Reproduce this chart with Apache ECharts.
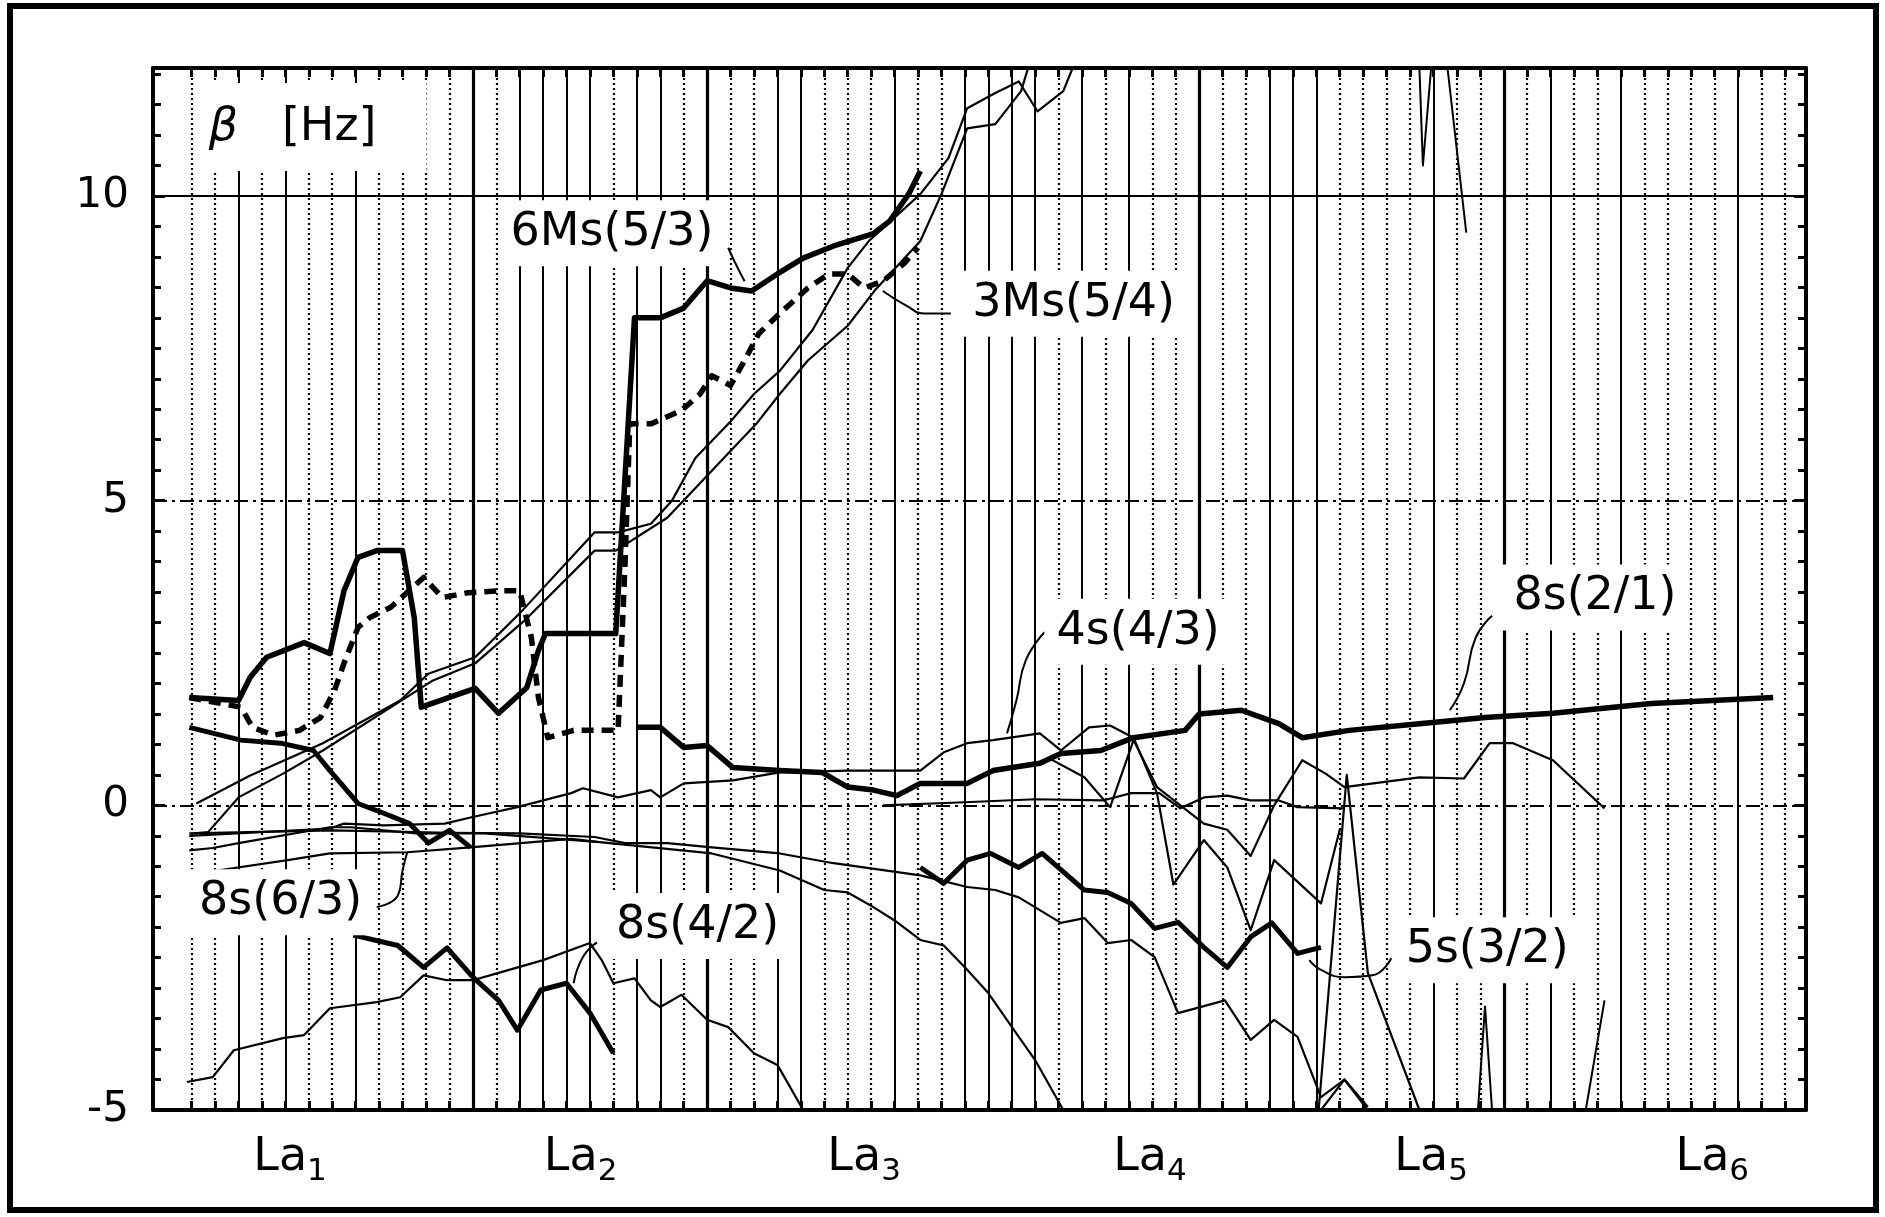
<!DOCTYPE html>
<html><head><meta charset="utf-8">
<script src="https://cdn.jsdelivr.net/npm/echarts@6/dist/echarts.min.js"></script>
<style>html,body{margin:0;padding:0;background:#fff}#c{width:1885px;height:1217px}</style>
</head><body><div id="c"></div>
<script>
// x unit = index of the vertical grid line (0 = first line after the left axis)
const laLabels = ['1','2','3','4','5','6'];
const laPositions = [4.2, 16.6, 28.7, 40.9, 52.9, 64.9];
const yTickLabels = [-5, 0, 5, 10];

// thick solid  6Ms(5/3)
const s6Ms = [[-0.1,1.77],[2.0,1.72],[2.5,2.1],[3.2,2.43],[4.8,2.67],[5.9,2.49],[6.5,3.52],[7.1,4.07],[7.9,4.18],[9.0,4.18],[9.5,3.08],[9.8,1.61],[12.1,1.92],[13.1,1.51],[14.3,1.93],[14.8,2.54],[15.1,2.82],[18.1,2.82],[18.9,8.0],[20.0,8.0],[21.0,8.16],[22.0,8.61],[23.0,8.49],[23.9,8.44],[25.0,8.72],[26.1,8.98],[27.4,9.18],[29.1,9.38],[29.8,9.59],[30.6,10.03],[31.1,10.41]];
// thick dashed 3Ms(5/4)
const s3Ms = [[-0.1,1.77],[2.1,1.61],[2.6,1.28],[3.5,1.15],[4.6,1.23],[5.5,1.44],[6.1,1.89],[6.5,2.33],[7.1,2.92],[7.6,3.08],[8.5,3.25],[9.9,3.74],[10.7,3.41],[11.8,3.49],[13.1,3.52],[14.0,3.52],[14.5,2.75],[14.8,1.77],[15.2,1.11],[16.3,1.23],[18.2,1.23],[18.5,4.0],[18.7,6.26],[19.6,6.26],[20.9,6.48],[21.7,6.75],[22.2,7.05],[23.0,6.89],[23.6,7.3],[24.2,7.74],[25.1,8.07],[26.3,8.49],[27.2,8.72],[28.0,8.72],[28.7,8.49],[29.5,8.6],[30.4,8.89],[31.0,9.15]];
// thin rising pair
const sThinU = [[0.2,0.03],[2.5,0.49],[5.6,1.02],[8.9,1.72],[10.1,2.16],[12.1,2.43],[14.0,3.15],[17.2,4.48],[18.2,4.48],[19.6,4.62],[20.5,5.0],[21.5,5.7],[23.0,6.3],[24.0,6.75],[25.1,7.13],[26.5,7.8],[28.0,8.82],[28.9,9.26],[31.1,10.03],[32.3,10.62],[33.1,11.44],[34.3,11.69],[35.3,11.88],[36.1,11.39],[37.2,11.72],[37.6,12.1]];
const sThinL = [[0.1,-0.46],[0.7,-0.44],[2.0,0.13],[3.9,0.52],[5.6,0.9],[10.3,2.05],[12.1,2.33],[14.2,3.03],[17.2,4.18],[18.1,4.18],[20.3,4.72],[22.2,5.49],[24.1,6.26],[25.1,6.75],[26.3,7.3],[28.0,7.87],[29.2,8.47],[31.1,9.26],[32.0,10.03],[33.1,11.11],[34.3,11.18],[35.4,11.72],[35.7,12.1]];
// thick descending (left)
const sThickD = [[-0.1,1.28],[2.1,1.07],[3.8,1.02],[5.2,0.9],[5.9,0.57],[7.1,0.03],[8.2,-0.13],[9.3,-0.3],[10.1,-0.62],[11.0,-0.41],[11.9,-0.69]];
// thick line ending as 8s(2/1)
const s8s21 = [[19.0,1.28],[20.0,1.28],[21.0,0.95],[22.0,0.98],[23.1,0.62],[25.1,0.57],[26.9,0.54],[28.0,0.3],[29.1,0.25],[30.1,0.16],[31.1,0.36],[33.1,0.36],[34.2,0.57],[36.2,0.69],[37.1,0.85],[38.8,0.9],[40.2,1.11],[42.4,1.23],[43.0,1.5],[44.8,1.56],[46.4,1.34],[47.4,1.11],[49.4,1.23],[52.4,1.34],[55.2,1.44],[58.1,1.51],[62.3,1.67],[67.5,1.77]];
// thick 5s(3/2)
const s5s32 = [[31.1,-1.02],[32.1,-1.28],[33.1,-0.9],[34.1,-0.79],[35.3,-1.02],[36.3,-0.79],[38.1,-1.39],[39.1,-1.43],[40.1,-1.61],[41.1,-2.02],[42.1,-1.92],[43.2,-2.33],[44.2,-2.66],[45.2,-2.16],[46.1,-1.93],[47.2,-2.43],[48.2,-2.33]];
// thick 8s(4/2)
const s8s42 = [[6.9,-2.13],[8.8,-2.3],[9.9,-2.66],[10.9,-2.34],[12.0,-2.82],[13.1,-3.2],[13.9,-3.69],[14.9,-3.03],[16.0,-2.92],[17.0,-3.41],[18.0,-4.07]];
// thin lines
const sThinLow = [[-0.2,-4.54],[0.9,-4.46],[1.8,-4.02],[3.9,-3.82],[4.8,-3.77],[5.9,-3.33],[7.9,-3.23],[8.9,-3.15],[9.9,-2.79],[10.9,-2.87],[12.0,-2.87],[13.1,-2.75],[15.0,-2.54],[17.0,-2.26],[17.5,-2.54],[18.0,-2.92],[18.9,-2.84],[19.6,-3.2],[20.0,-3.31],[20.9,-3.11],[22.0,-3.52],[22.9,-3.64],[24.0,-4.07],[25.0,-4.26],[26.1,-5.0]];
const sThinM1 = [[-0.1,-0.46],[6.0,-0.41],[11.0,-0.45],[14.0,-0.46],[17.2,-0.52],[18.5,-0.62],[20.3,-0.62],[22.2,-0.69],[25.1,-0.79],[27.4,-0.95],[31.1,-1.15],[33.1,-1.34],[34.3,-1.39],[35.3,-1.51],[37.1,-1.93],[38.1,-1.85],[39.1,-2.26],[40.1,-2.21],[41.1,-2.49],[42.1,-3.41],[44.1,-3.2],[45.2,-3.85],[46.2,-3.52],[47.2,-3.8],[48.2,-4.79],[49.2,-4.5],[50.2,-4.95]];
const sThinM2 = [[-0.1,-0.74],[0.9,-0.7],[2.0,-0.62],[5.9,-0.36],[6.8,-0.36],[9.6,-0.46],[12.5,-0.46],[17.3,-0.6],[22.2,-0.79],[25.1,-1.07],[27.0,-1.39],[28.0,-1.43],[29.1,-1.67],[30.0,-1.89],[31.1,-2.21],[32.1,-2.3],[33.1,-2.7],[34.0,-3.08],[35.1,-3.69],[36.0,-4.18],[37.2,-5.0]];
const s8s63 = [[-0.1,-1.1],[1.1,-1.07],[4.1,-0.9],[5.9,-0.79],[9.2,-0.77],[11.9,-0.69],[16.2,-0.55],[17.3,-0.6]];
const sThin43 = [[-0.1,-0.5],[5.9,-0.38],[6.5,-0.3],[8.2,-0.33],[10.8,-0.3],[11.9,-0.2],[13.9,-0.03],[16.2,0.2],[16.7,0.28],[18.2,0.13],[19.6,0.25],[20.0,0.13],[21.0,0.36],[23.1,0.41],[25.1,0.54],[28.0,0.57],[31.1,0.57],[32.1,0.87],[33.1,1.02],[34.2,1.07],[36.2,1.18],[37.1,0.9],[38.3,1.28],[39.2,1.31],[40.2,1.11],[41.2,0.2],[41.9,-1.3],[43.2,-0.57],[44.2,-1.02],[45.2,-2.05],[46.2,-0.9],[48.2,-1.61],[49.0,-0.4]];
const sThinV = [[36.7,0.75],[38.1,0.46],[39.2,-0.03],[40.2,1.07],[41.2,0.3],[42.2,0.0],[43.2,-0.3],[44.2,-0.4],[45.2,-0.83],[46.2,0.0],[47.4,0.74],[48.4,0.52],[49.2,0.3],[52.4,0.46],[54.3,0.44],[55.4,1.02],[56.4,1.02],[58.1,0.74],[60.3,-0.05]];
const sThinZero = [[29.5,0.0],[33.0,0.05],[36.0,0.1],[38.9,0.08],[40.1,0.2],[41.3,0.2],[42.2,-0.05],[43.2,0.13],[44.2,0.16],[45.2,0.08],[46.4,0.08],[47.2,-0.03],[49.2,-0.05]];
const sSpike5 = [[48.1,-5.0],[49.3,0.5],[50.2,-2.75],[52.4,-5.0]];
const sBump = [[48.2,-5.0],[49.2,-4.5],[50.2,-5.0]];
const sSpikeA = [[54.9,-5.0],[55.2,-3.3],[55.5,-5.0]];
const sSpikeB = [[59.5,-5.0],[60.3,-3.2]];
const sTopV = [[52.4,12.1],[52.55,10.5],[52.9,12.1]];
const sTopL = [[53.6,12.1],[54.4,9.4]];

// annotation anchors (data units)
const labelText = ['6Ms(5/3)','3Ms(5/4)','4s(4/3)','8s(2/1)','8s(6/3)','8s(4/2)','5s(3/2)'];
const labelAt = [[13.1,9.39],[32.8,8.23],[36.4,2.85],[55.9,3.41],[-0.2,-1.59],[17.6,-1.98],[51.3,-2.38]];
const leaders = [
  [[22.9,9.15],[23.2,8.9],[23.6,8.6]],
  [[29.5,8.44],[30.5,8.2],[31.3,8.07],[32.4,8.07]],
  [[36.4,2.84],[35.6,2.38],[35.2,1.72],[34.8,1.18]],
  [[55.5,3.11],[54.8,2.75],[54.3,2.0],[53.7,1.56]],
  [[7.9,-1.67],[8.8,-1.48],[9.0,-1.07],[9.2,-0.77]],
  [[17.3,-2.25],[16.7,-2.49],[16.3,-2.92]],
  [[51.2,-2.51],[50.4,-2.79],[49.2,-2.82],[48.2,-2.7],[47.7,-2.54]]
];
const titleAt = [0.3, 11.13];

// vertical line styles: d = dotted, s = solid, S = heavy solid
const gridPattern = 'ddsdsddsdd' + 'ddSdssssds' + 'sdSddssddd' + 'sddssssdsd' + 'sddSddsssd' + 'dddsddSdsd' + 'dsddddsdd';

const FONT = 'DejaVu Sans';
const chart = echarts.init(document.getElementById('c'), null, {renderer:'canvas'});

const vLines = [];
for (let k = 0; k < gridPattern.length; k++) {
  const c = gridPattern[k];
  vLines.push({xAxis:k, lineStyle:{color:'#000', width: c==='S'?3.2:(c==='s'?2:2.2), type: c==='d'?[2,3]:'solid'}});
}
const hLines = [
  {yAxis:10, lineStyle:{color:'#000', width:2.2, type:'solid'}},
  {yAxis:5, lineStyle:{color:'#000', width:2, type:[14,5,3,5]}},
  {yAxis:0, lineStyle:{color:'#000', width:2, type:[14,5,3,5]}}
];
const tickVals = []; for (let k = 0; k < gridPattern.length; k++) tickVals.push(k);

function line(data, w, type, extra) {
  return Object.assign({type:'line', data:data, symbol:'none', silent:true, animation:false,
    lineStyle:{color:'#000', width:w, type:type||'solid', cap:'butt', join:'round'}, z:5}, extra||{});
}

const series = [
  line([], 1, 'solid', {markLine:{silent:true, symbol:['none','none'], label:{show:false}, animation:false, data: vLines.concat(hLines)}, z:2}),
  line(s6Ms, 5.5),
  line(s3Ms, 5.5, [12,8]),
  line(sThinU, 2.2), line(sThinL, 2.2),
  line(sThickD, 5),
  line(s8s21, 5.5),
  line(s5s32, 5),
  line(s8s42, 5),
  line(sThinLow, 2.2), line(sThinM1, 2.2), line(sThinM2, 2.2), line(s8s63, 2.2),
  line(sThin43, 2.2), line(sThinV, 2.2), line(sThinZero, 2.2),
  line(sSpike5, 2.2), line(sBump, 2.2), line(sSpikeA, 2), line(sSpikeB, 2),
  line(sTopV, 2), line(sTopL, 2)
];
leaders.forEach(l => series.push(line(l, 2, 'solid', {smooth:true, z:6})));

const axisLineStyle = {onZero:false, lineStyle:{color:'#000', width:4}};
chart.setOption({
  backgroundColor:'#fff',
  animation:false,
  grid:{left:153, right:79, top:68, bottom:107, containLabel:false},
  xAxis:[
    {type:'value', min:-1.65, max:68.9, position:'bottom', axisLine:axisLineStyle,
     splitLine:{show:false},
     axisTick:{show:true, inside:true, length:9, customValues:tickVals, lineStyle:{color:'#000', width:3}},
     axisLabel:{show:true, customValues:laPositions, margin:20, color:'#000', fontFamily:FONT, fontSize:46,
       formatter:function(v){ const i = laPositions.indexOf(v); return 'La{s|' + (i>=0?laLabels[i]:'') + '}'; },
       rich:{s:{fontSize:31, fontFamily:FONT, color:'#000', padding:[26,0,0,0]}}}},
    {type:'value', min:-1.65, max:68.9, position:'top', axisLine:axisLineStyle, splitLine:{show:false},
     axisTick:{show:true, inside:true, length:9, customValues:tickVals, lineStyle:{color:'#000', width:3}},
     axisLabel:{show:false}}
  ],
  yAxis:[
    {type:'value', min:-5, max:12.1, interval:5, position:'left', axisLine:axisLineStyle, splitLine:{show:false},
     axisTick:{show:true, inside:true, length:12, lineStyle:{color:'#000', width:3}},
     minorTick:{show:true, splitNumber:10, length:8, lineStyle:{color:'#000', width:3}},
     axisLabel:{color:'#000', fontFamily:FONT, fontSize:42, margin:24, customValues:yTickLabels,
       formatter:function(v){ return String(v); }}},
    {type:'value', min:-5, max:12.1, interval:5, position:'right', axisLine:axisLineStyle, splitLine:{show:false},
     axisTick:{show:true, inside:true, length:12, lineStyle:{color:'#000', width:3}},
     minorTick:{show:true, splitNumber:10, length:8, lineStyle:{color:'#000', width:3}},
     axisLabel:{show:false}}
  ],
  series: series
});

// annotations placed through the chart's own coordinate system
const graphics = [{type:'rect', shape:{x:10, y:6, width:1866, height:1204}, style:{fill:'none', stroke:'#000', lineWidth:6}, z:200, silent:true}];
labelText.forEach((t, i) => {
  const p = chart.convertToPixel({xAxisIndex:0, yAxisIndex:0}, labelAt[i]);
  graphics.push({type:'text', x:p[0], y:p[1], z:100, silent:true,
    style:{text:t, fill:'#000', font:'46px "' + FONT + '"', verticalAlign:'middle', align:'left',
      backgroundColor:'#fff', padding:[6,12,14,12]}});
});
const tp = chart.convertToPixel({xAxisIndex:0, yAxisIndex:0}, titleAt);
graphics.push({type:'text', x:tp[0], y:tp[1], z:100, silent:true,
  style:{text:'{b|β}   [Hz]', fill:'#000', font:'46px "' + FONT + '"', verticalAlign:'middle', align:'left',
    backgroundColor:'#fff', padding:[22,50,20,10],
    rich:{b:{font:'italic 46px "' + FONT + '"', fill:'#000'}}}});
chart.setOption({graphic: graphics});
</script></body></html>
